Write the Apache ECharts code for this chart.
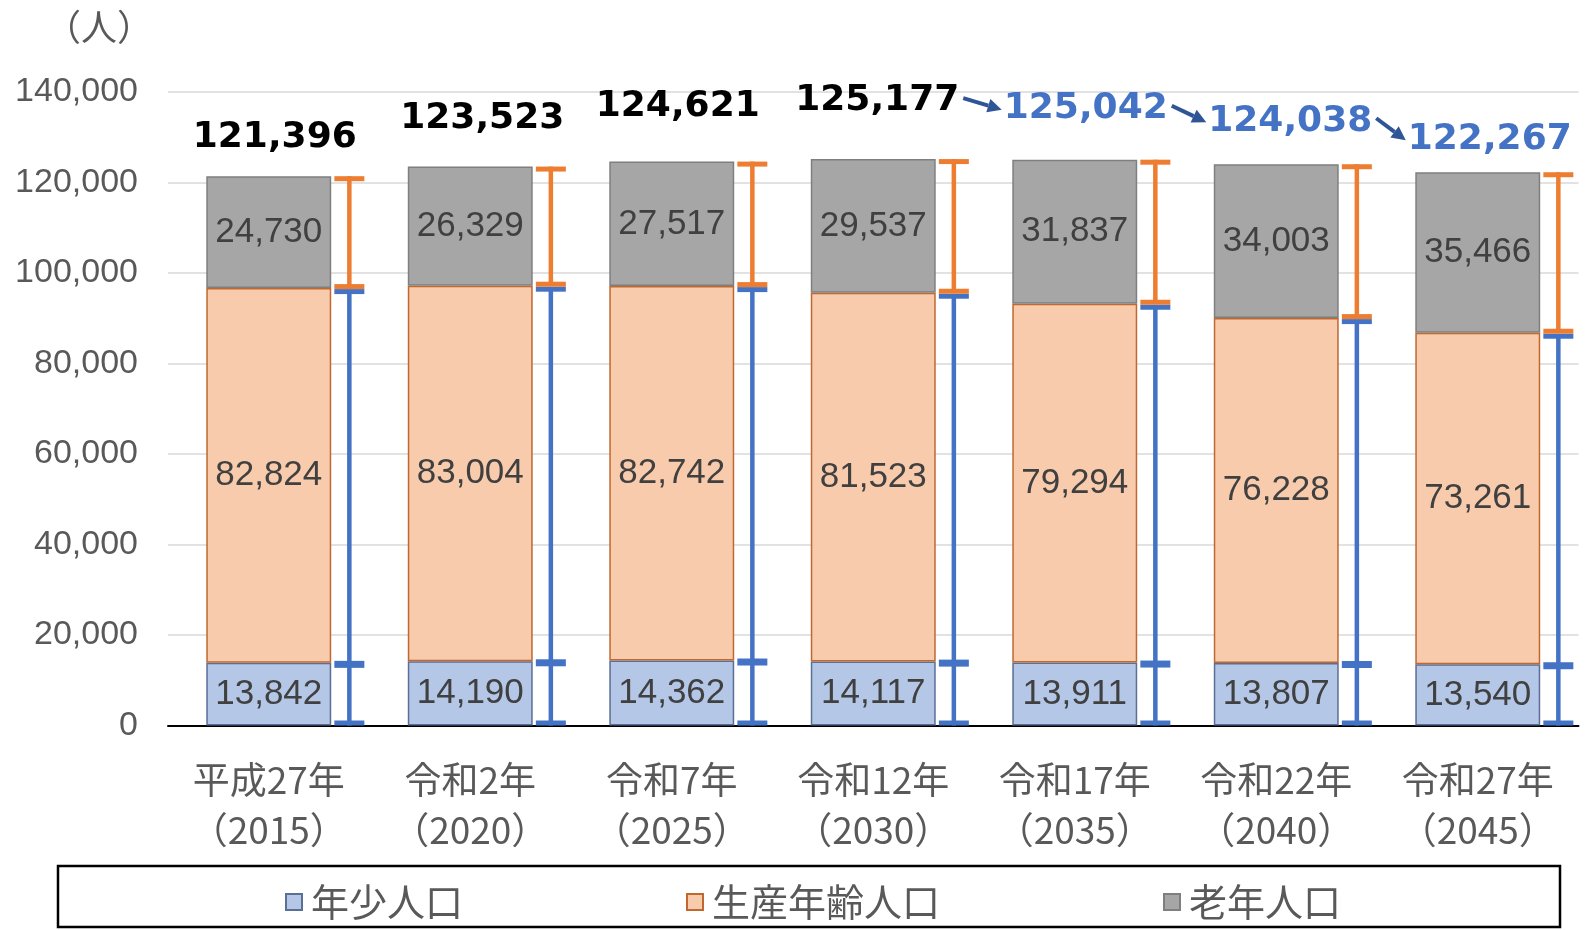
<!DOCTYPE html>
<html><head><meta charset="utf-8">
<script src="https://cdn.jsdelivr.net/npm/echarts@6/dist/echarts.min.js"></script>
<style>html,body{margin:0;padding:0;background:#fff}#c{width:1585px;height:930px}</style>
</head><body><div id="c"></div>
<script>
// ---- data ----
const categories = ['平成27年\n（2015）','令和2年\n（2020）','令和7年\n（2025）','令和12年\n（2030）','令和17年\n（2035）','令和22年\n（2040）','令和27年\n（2045）'];
const seriesNames = ['年少人口','生産年齢人口','老年人口'];
const youngPop   = [13842, 14190, 14362, 14117, 13911, 13807, 13540];
const workingPop = [82824, 83004, 82742, 81523, 79294, 76228, 73261];
const elderlyPop = [24730, 26329, 27517, 29537, 31837, 34003, 35466];
const totalPop   = [121396, 123523, 124621, 125177, 125042, 124038, 122267];
const projectionStart = 4;   // totals from this index are shown in blue
const yMin = 0, yMax = 140000, yInterval = 20000;
const yUnit = '（人）';

// ---- layout/style (pixels, not data) ----
const totalLabelShift = [[6,-39],[12,-48],[6,-55],[4,-58],[11,-51],[14,-43],[12,-33]];
const LABEL_W = 162;

const fmt = v => v.toLocaleString('en-US');
const chart = echarts.init(document.getElementById('c'), null, {renderer:'canvas'});

const inBarLabel = {
  show: true, position: 'inside', formatter: p => fmt(p.value),
  fontSize: 35, color: '#404040', fontFamily: '"Liberation Sans", Arial, sans-serif'
};

function labelCenter(api, i) {
  const top = api.coord([i, totalPop[i]]);
  return [top[0] + totalLabelShift[i][0], top[1] + totalLabelShift[i][1]];
}

const option = {
  backgroundColor: '#ffffff',
  animation: false,
  grid: { left: 168, right: 6.5, top: 92, bottom: 204.5 },
  xAxis: {
    type: 'category', data: categories,
    axisLine: { lineStyle: { color: '#000', width: 2 } },
    axisTick: { show: false },
    axisLabel: { interval: 0, hideOverlap: false, fontSize: 37, lineHeight: 50, margin: 29, color: '#595959',
      fontFamily: '"Noto Sans CJK JP", sans-serif' }
  },
  yAxis: {
    type: 'value', min: yMin, max: yMax, interval: yInterval,
    axisLine: { show: false }, axisTick: { show: false },
    splitLine: { lineStyle: { color: '#d9d9d9', width: 1.5 } },
    axisLabel: { fontSize: 34, margin: 30, color: '#595959', formatter: v => fmt(v),
      fontFamily: '"Liberation Sans", Arial, sans-serif' }
  },
  legend: {
    data: seriesNames, left: 280, top: 878, itemGap: 223,
    itemWidth: 16, itemHeight: 16, icon: 'rect',
    textStyle: { fontSize: 38, color: '#595959', fontFamily: '"Noto Sans CJK JP", sans-serif', padding: [0,0,0,4] }
  },
  graphic: [
    { type: 'rect', shape: { x: 58, y: 866, width: 1502, height: 61 },
      style: { fill: 'none', stroke: '#000', lineWidth: 2.5 }, silent: true },
    { type: 'text', x: 153, y: 27, style: { text: yUnit, fill: '#595959', fontSize: 36,
      fontFamily: '"Noto Sans CJK JP", sans-serif', align: 'right', verticalAlign: 'middle' } }
  ],
  series: [
    { name: seriesNames[0], type: 'bar', stack: 'pop', barWidth: '62%', data: youngPop,
      itemStyle: { color: '#b4c7e7', borderColor: '#5a6e96', borderWidth: 1.5 }, label: inBarLabel },
    { name: seriesNames[1], type: 'bar', stack: 'pop', data: workingPop,
      itemStyle: { color: '#f8cbad', borderColor: '#c0682e', borderWidth: 1.5 }, label: inBarLabel },
    { name: seriesNames[2], type: 'bar', stack: 'pop', data: elderlyPop,
      itemStyle: { color: '#a6a6a6', borderColor: '#7f7f7f', borderWidth: 1.5 }, label: inBarLabel },
    { // range brackets
      type: 'custom', z: 5, clip: false, silent: true,
      data: categories.map((_, i) => [i, youngPop[i], youngPop[i] + workingPop[i], totalPop[i]]),
      renderItem(params, api) {
        const i = api.value(0);
        const band = api.size([1, 0])[0];
        const c0 = api.coord([i, 0]);
        const x = c0[0] + band * 0.40;
        const y0 = c0[1];
        const y1 = api.coord([i, api.value(1)])[1];
        const y2 = api.coord([i, api.value(2)])[1];
        const y3 = api.coord([i, api.value(3)])[1];
        const cw = 30, lw = 4.5;
        const blue = '#4472C4', orange = '#ED7D31';
        const cap = (yy, h, col) => ({ type: 'rect', shape: { x: x - cw / 2, y: yy, width: cw, height: h }, style: { fill: col } });
        return { type: 'group', children: [
          { type: 'line', shape: { x1: x, y1: y0, x2: x, y2: y2 + 3 }, style: { stroke: blue, lineWidth: lw } },
          { type: 'line', shape: { x1: x, y1: y2, x2: x, y2: y3 }, style: { stroke: orange, lineWidth: lw } },
          cap(y0 - 5, 5, blue),
          cap(y1 - 2, 7, blue),
          cap(y2 + 1, 5, blue),
          cap(y2 - 4, 5, orange),
          cap(y3, 5, orange)
        ] };
      }
    },
    { // totals + arrows
      type: 'custom', z: 6, clip: false, silent: true,
      data: totalPop.map((v, i) => [i, v]),
      renderItem(params, api) {
        const i = api.value(0);
        const [cx, cy] = labelCenter(api, i);
        const children = [
          { type: 'text', x: cx, y: cy, style: {
            text: fmt(api.value(1)), fill: i >= projectionStart ? '#4472C4' : '#000000',
            fontSize: 36, fontWeight: 'bold', fontFamily: '"DejaVu Sans", sans-serif',
            align: 'center', verticalAlign: 'middle' } }
        ];
        if (i >= projectionStart - 1 && i < totalPop.length - 1) {
          const [nx, ny] = labelCenter(api, i + 1);
          const xs = cx + LABEL_W / 2 + 5, ys = cy - 3;
          const xe = nx - LABEL_W / 2 - 3, ye = ny + 1;
          const ang = Math.atan2(ye - ys, xe - xs);
          const hl = 14, hw = 7;
          const bx = xe - hl * Math.cos(ang), by = ye - hl * Math.sin(ang);
          const px = -Math.sin(ang) * hw, py = Math.cos(ang) * hw;
          children.push(
            { type: 'line', shape: { x1: xs, y1: ys, x2: bx, y2: by }, style: { stroke: '#2F5597', lineWidth: 4 } },
            { type: 'polygon', shape: { points: [[xe, ye], [bx + px, by + py], [bx - px, by - py]] }, style: { fill: '#2F5597' } }
          );
        }
        return { type: 'group', children };
      }
    }
  ]
};
chart.setOption(option);
</script>
</body></html>
